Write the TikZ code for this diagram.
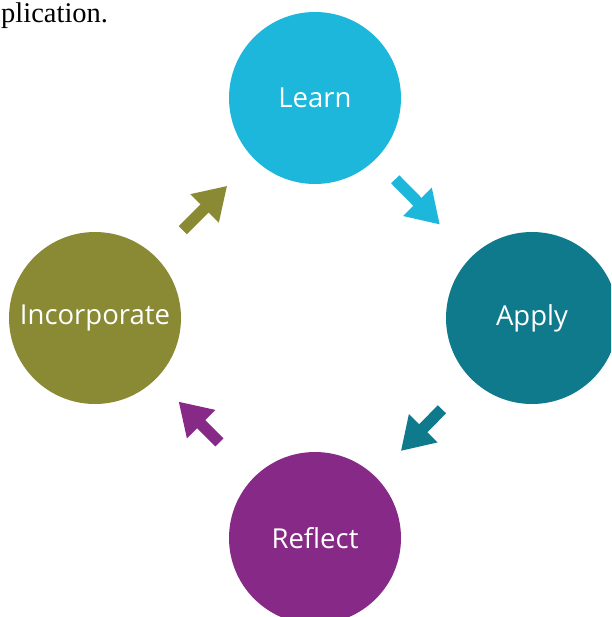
\documentclass[tikz,border=0pt]{standalone}
\usepackage{fontspec}
\setsansfont{Open Sans}
\newfontfamily\bodyserif{Liberation Serif}
\usepackage{tikz}
\usetikzlibrary{arrows.meta}
\usepackage{xcolor}

\definecolor{learncol}{HTML}{1CB7DB}
\definecolor{applycol}{HTML}{0E7A8C}
\definecolor{reflectcol}{HTML}{872A87}
\definecolor{incorpcol}{HTML}{8A8A35}

\tikzset{
    phase/.style={circle, minimum size=172pt, inner sep=0pt, text=white,
        font=\sffamily\fontsize{27.5}{30}\selectfont},
    flow/.style={line width=11.5pt, -{Triangle[width=38pt, length=32pt]}}
}

\begin{document}
\begin{tikzpicture}[x=1pt, y=-1pt]
    \clip (0,0) rectangle (611,617);

    \node[anchor=base west, inner sep=0pt, font=\bodyserif\fontsize{28.5}{30}\selectfont] (tail) at (1,23) {plication.};

    \node[phase, fill=learncol] (learn) at (315,98) {Learn};
    \node[phase, fill=applycol] (apply) at (532,318) {Apply};
    \node[phase, fill=reflectcol] (reflect) at (315,538) {Reflect};
    \node[phase, fill=incorpcol] (incorp) at (95,318) {Incorporate};

    \draw[flow, learncol, shorten <=28pt, shorten >=45pt] (learn) -- (apply);
    \draw[flow, applycol, shorten <=42pt, shorten >=36pt] (apply) -- (reflect);
    \draw[flow, reflectcol, shorten <=49pt, shorten >=32pt] (reflect) -- (incorp);
    \draw[flow, incorpcol, shorten <=38pt, shorten >=38pt] (incorp) -- (learn);
\end{tikzpicture}
\end{document}
